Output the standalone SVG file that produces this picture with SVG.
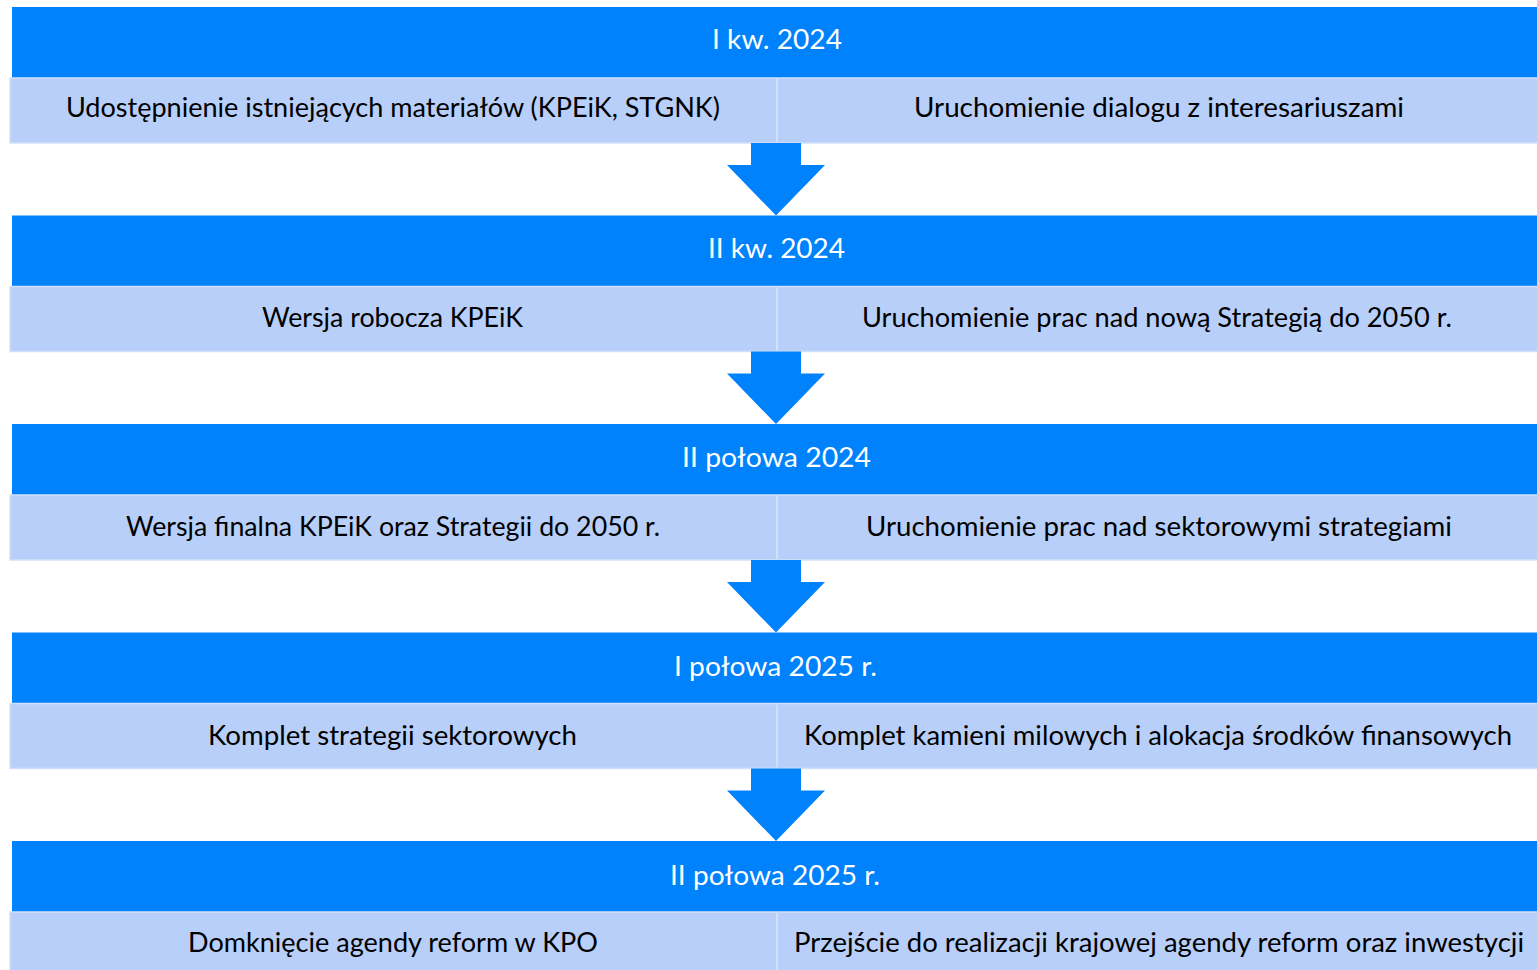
<svg xmlns="http://www.w3.org/2000/svg" width="1537" height="970" viewBox="0 0 1537 970">
<style>
.hdr{fill:#0082FC}
.row{fill:#B8CFFA;stroke:#D3E0FB;stroke-width:1.5}
.div{stroke:#D3E0FB;stroke-width:2}
.arr{fill:#0082FC}
.ht{font-family:Lato,"Open Sans","Liberation Sans",sans-serif;font-size:26px;fill:#FFFFFF;text-anchor:middle}
.rt{font-family:Lato,"Open Sans","Liberation Sans",sans-serif;font-size:26px;fill:#000000;text-anchor:middle}
</style>
<rect width="1537" height="970" fill="#FFFFFF"/>
<g id="stage1">
<rect class="hdr" x="12" y="7" width="1530" height="71"/>
<text class="ht" x="777" y="49" textLength="130" lengthAdjust="spacingAndGlyphs">I kw. 2024</text>
<rect class="row" x="10" y="78" width="1530" height="65"/>
<line class="div" x1="777" y1="79" x2="777" y2="142"/>
<text class="rt" x="393" y="117" textLength="654" lengthAdjust="spacingAndGlyphs">Udostępnienie istniejących materiałów (KPEiK, STGNK)</text>
<text class="rt" x="1159" y="117" textLength="490" lengthAdjust="spacingAndGlyphs">Uruchomienie dialogu z interesariuszami</text>
</g>
<g id="stage2">
<rect class="hdr" x="12" y="215.5" width="1530" height="71"/>
<text class="ht" x="776.5" y="258" textLength="137" lengthAdjust="spacingAndGlyphs">II kw. 2024</text>
<rect class="row" x="10" y="286.5" width="1530" height="65"/>
<line class="div" x1="777" y1="287.5" x2="777" y2="350.5"/>
<text class="rt" x="392.5" y="327" textLength="261" lengthAdjust="spacingAndGlyphs">Wersja robocza KPEiK</text>
<text class="rt" x="1157" y="327" textLength="590" lengthAdjust="spacingAndGlyphs">Uruchomienie prac nad nową Strategią do 2050 r.</text>
</g>
<g id="stage3">
<rect class="hdr" x="12" y="424" width="1530" height="71"/>
<text class="ht" x="776.5" y="467" textLength="189" lengthAdjust="spacingAndGlyphs">II połowa 2024</text>
<rect class="row" x="10" y="495" width="1530" height="65"/>
<line class="div" x1="777" y1="496" x2="777" y2="559"/>
<text class="rt" x="393" y="536" textLength="534" lengthAdjust="spacingAndGlyphs">Wersja finalna KPEiK oraz Strategii do 2050 r.</text>
<text class="rt" x="1159" y="536" textLength="586" lengthAdjust="spacingAndGlyphs">Uruchomienie prac nad sektorowymi strategiami</text>
</g>
<g id="stage4">
<rect class="hdr" x="12" y="632.5" width="1530" height="71"/>
<text class="ht" x="775.5" y="676" textLength="203" lengthAdjust="spacingAndGlyphs">I połowa 2025 r.</text>
<rect class="row" x="10" y="703.5" width="1530" height="65"/>
<line class="div" x1="777" y1="704.5" x2="777" y2="767.5"/>
<text class="rt" x="392.5" y="745" textLength="369" lengthAdjust="spacingAndGlyphs">Komplet strategii sektorowych</text>
<text class="rt" x="1158" y="745" textLength="708" lengthAdjust="spacingAndGlyphs">Komplet kamieni milowych i alokacja środków finansowych</text>
</g>
<g id="stage5">
<rect class="hdr" x="12" y="841" width="1530" height="71"/>
<text class="ht" x="775" y="885" textLength="210" lengthAdjust="spacingAndGlyphs">II połowa 2025 r.</text>
<rect class="row" x="10" y="912" width="1530" height="65"/>
<line class="div" x1="777" y1="913" x2="777" y2="970"/>
<text class="rt" x="393" y="952" textLength="410" lengthAdjust="spacingAndGlyphs">Domknięcie agendy reform w KPO</text>
<text class="rt" x="1159" y="952" textLength="730" lengthAdjust="spacingAndGlyphs">Przejście do realizacji krajowej agendy reform oraz inwestycji</text>
</g>
<g id="connectors">
<polygon class="arr" points="751,143 801,143 801,165 825,165 776,215.5 727,165 751,165"/>
<polygon class="arr" points="751,351.5 801,351.5 801,373.5 825,373.5 776,424 727,373.5 751,373.5"/>
<polygon class="arr" points="751,560 801,560 801,582 825,582 776,632.5 727,582 751,582"/>
<polygon class="arr" points="751,768.5 801,768.5 801,790.5 825,790.5 776,841 727,790.5 751,790.5"/>
</g>
</svg>
